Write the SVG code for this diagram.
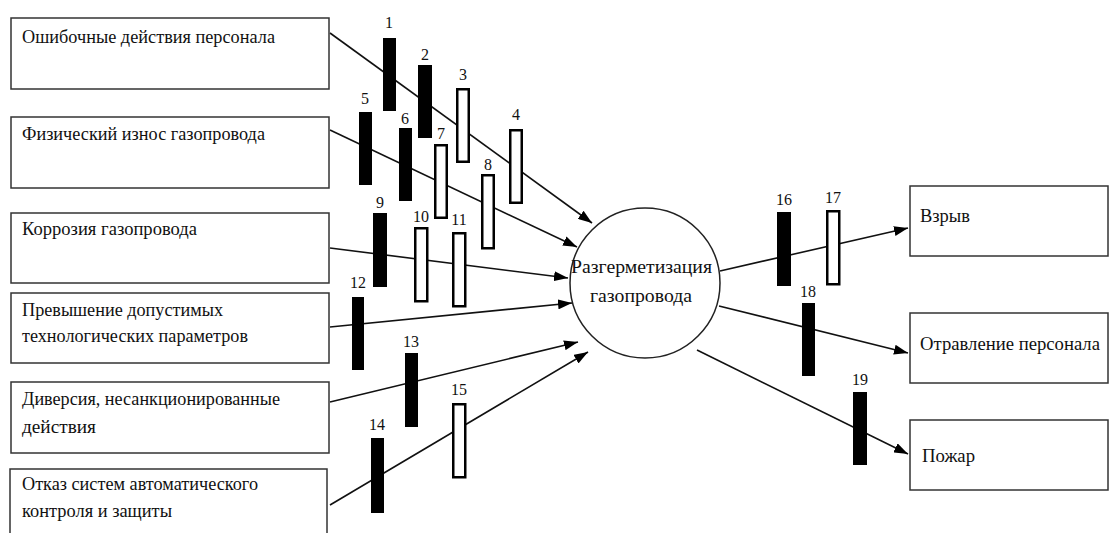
<svg xmlns="http://www.w3.org/2000/svg" width="1111" height="533" viewBox="0 0 1111 533">
<style>
.box{fill:#fff;stroke:#333;stroke-width:1.5}
.t{font-family:'Liberation Serif',serif;font-size:19.5px;fill:#111}
.n{font-family:'Liberation Serif',serif;font-size:16px;fill:#111;text-anchor:middle}
.ln{stroke:#111;stroke-width:1.6;fill:none;marker-end:url(#ah)}
.b{fill:#000}
.w{fill:#fff;stroke:#000;stroke-width:2.5}
</style>
<defs>
<marker id="ah" markerUnits="userSpaceOnUse" markerWidth="14" markerHeight="10" refX="14" refY="5" orient="auto">
<path d="M0,0 L14,5 L0,10 Z" fill="#000"/>
</marker>
</defs>
<rect width="1111" height="533" fill="#fff"/>

<g id="connectors">
<line class="ln" x1="330" y1="33" x2="592" y2="223"/>
<line class="ln" x1="330" y1="130" x2="577" y2="247"/>
<line class="ln" x1="330" y1="248" x2="568" y2="278"/>
<line class="ln" x1="330" y1="327" x2="572" y2="303"/>
<line class="ln" x1="330" y1="402" x2="578" y2="342"/>
<line class="ln" x1="330" y1="505" x2="588" y2="352"/>
<line class="ln" x1="720" y1="271" x2="908" y2="228"/>
<line class="ln" x1="719" y1="306" x2="908" y2="353"/>
<line class="ln" x1="697" y1="350" x2="908" y2="454"/>
</g>

<g id="n-left1"><rect class="box" x="11" y="18" width="318" height="71"/><text class="t" x="22" y="43" textLength="253" lengthAdjust="spacingAndGlyphs">Ошибочные действия персонала</text></g>
<g id="n-left2"><rect class="box" x="11" y="117" width="318" height="71"/><text class="t" x="22" y="140" textLength="243" lengthAdjust="spacingAndGlyphs">Физический износ газопровода</text></g>
<g id="n-left3"><rect class="box" x="11" y="213" width="318" height="70"/><text class="t" x="22" y="235" textLength="175" lengthAdjust="spacingAndGlyphs">Коррозия газопровода</text></g>
<g id="n-left4"><rect class="box" x="11" y="293" width="318" height="70"/><text class="t" x="22" y="316" textLength="201" lengthAdjust="spacingAndGlyphs">Превышение допустимых</text><text class="t" x="22" y="342" textLength="226" lengthAdjust="spacingAndGlyphs">технологических параметров</text></g>
<g id="n-left5"><rect class="box" x="11" y="382" width="318" height="71"/><text class="t" x="22" y="405" textLength="258" lengthAdjust="spacingAndGlyphs">Диверсия, несанкционированные</text><text class="t" x="22" y="433" textLength="74" lengthAdjust="spacingAndGlyphs">действия</text></g>
<g id="n-left6"><rect class="box" x="10" y="469" width="317" height="80"/><text class="t" x="22" y="490" textLength="236" lengthAdjust="spacingAndGlyphs">Отказ систем автоматического</text><text class="t" x="22" y="517" textLength="150" lengthAdjust="spacingAndGlyphs">контроля и защиты</text></g>

<g id="n-center"><circle cx="645" cy="283" r="75" fill="none" stroke="#222" stroke-width="1.5"/><text class="t" x="571" y="273" textLength="141" lengthAdjust="spacingAndGlyphs">Разгерметизация</text><text class="t" x="590" y="302" textLength="102" lengthAdjust="spacingAndGlyphs">газопровода</text></g>

<g id="n-right1"><rect class="box" x="910" y="186" width="198" height="70"/><text class="t" x="920" y="222" textLength="50" lengthAdjust="spacingAndGlyphs">Взрыв</text></g>
<g id="n-right2"><rect class="box" x="910" y="313" width="198" height="70"/><text class="t" x="920" y="350" textLength="180" lengthAdjust="spacingAndGlyphs">Отравление персонала</text></g>
<g id="n-right3"><rect class="box" x="910" y="420" width="198" height="70"/><text class="t" x="922" y="462" textLength="53" lengthAdjust="spacingAndGlyphs">Пожар</text></g>

<g id="barriers">
<rect class="b" x="383" y="38" width="13" height="73"/><text class="n" x="389" y="28">1</text>
<rect class="b" x="418" y="65" width="14" height="73"/><text class="n" x="425" y="60">2</text>
<rect class="w" x="457.25" y="89.25" width="11.5" height="72.5"/><text class="n" x="463" y="80">3</text>
<rect class="w" x="510.25" y="130.25" width="11.5" height="72.5"/><text class="n" x="516" y="120">4</text>
<rect class="b" x="359" y="112" width="13" height="73"/><text class="n" x="365" y="104">5</text>
<rect class="b" x="399" y="128" width="13" height="73"/><text class="n" x="405" y="124">6</text>
<rect class="w" x="435.25" y="145.25" width="11.5" height="72.5"/><text class="n" x="441" y="139">7</text>
<rect class="w" x="482.25" y="175.25" width="11.5" height="73"/><text class="n" x="488" y="170">8</text>
<rect class="b" x="373" y="213" width="14" height="74"/><text class="n" x="380" y="208">9</text>
<rect class="w" x="415.25" y="228.25" width="12" height="73"/><text class="n" x="421" y="222">10</text>
<rect class="w" x="453.25" y="233.25" width="12" height="73"/><text class="n" x="459" y="225">11</text>
<rect class="b" x="352" y="297" width="12" height="73"/><text class="n" x="358" y="288">12</text>
<rect class="b" x="405" y="353" width="13" height="74"/><text class="n" x="411" y="347">13</text>
<rect class="b" x="371" y="438" width="13" height="75"/><text class="n" x="377" y="430">14</text>
<rect class="w" x="453.25" y="404.25" width="12" height="73"/><text class="n" x="459" y="395">15</text>
<rect class="b" x="777" y="212" width="14" height="74"/><text class="n" x="784" y="205">16</text>
<rect class="w" x="827.25" y="211.25" width="12" height="73"/><text class="n" x="833" y="203">17</text>
<rect class="b" x="802" y="303" width="13" height="73"/><text class="n" x="808" y="297">18</text>
<rect class="b" x="853" y="392" width="14" height="73"/><text class="n" x="860" y="385">19</text>
</g>
</svg>
